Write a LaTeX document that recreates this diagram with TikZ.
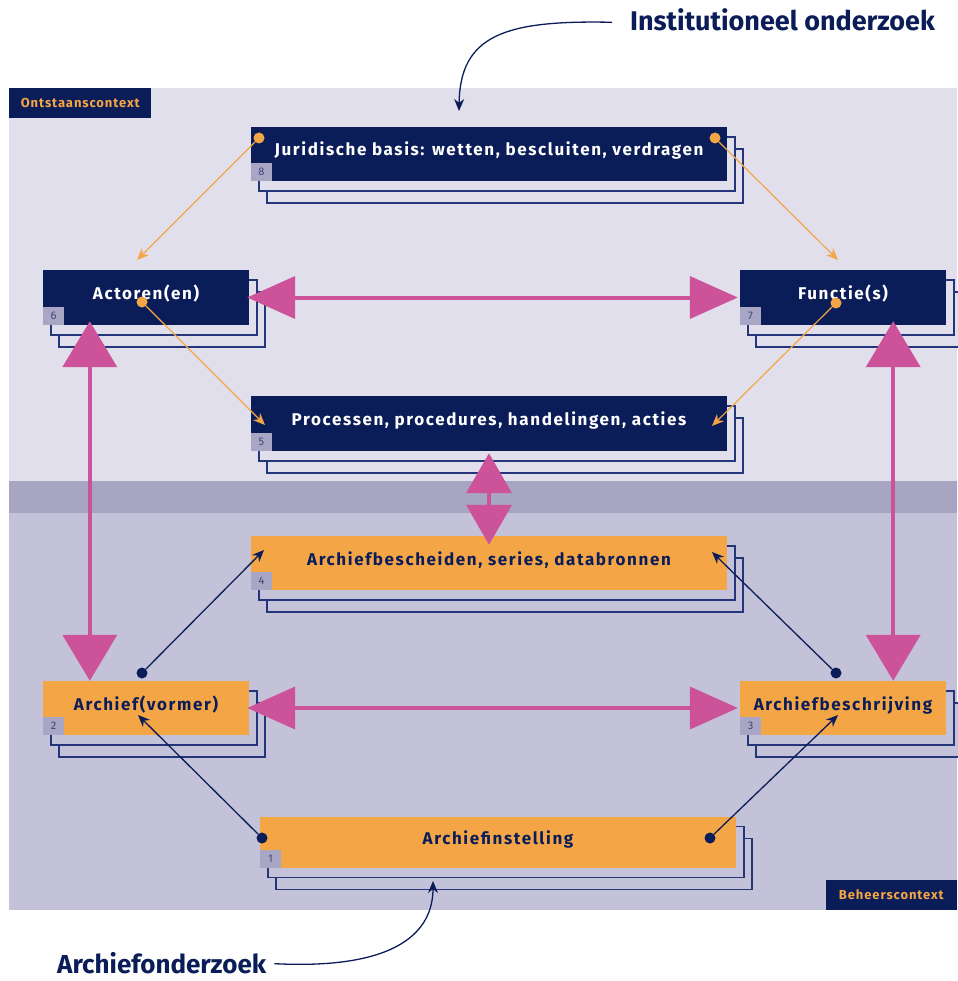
\documentclass[tikz,border=0pt]{standalone}
\usepackage{fontspec}
\setmainfont{Fira Sans}
\newfontfamily\spacedsans{Fira Sans}[LetterSpace=9.5]
\newfontfamily\tagsans{Fira Sans}[LetterSpace=7]
\usepackage{tikz}
\usetikzlibrary{arrows.meta, shadows, calc}

\definecolor{navy}{HTML}{0B1D58}
\definecolor{boxorange}{HTML}{F4A646}
\definecolor{rose}{HTML}{CC5399}
\definecolor{lavtop}{HTML}{E1DFEC}
\definecolor{lavband}{HTML}{A8A5C2}
\definecolor{lavbot}{HTML}{C4C2D8}
\definecolor{tagfill}{HTML}{A9A6C5}
\definecolor{tagtext}{HTML}{3B4679}
\definecolor{stackline}{HTML}{24357A}

\begin{document}
\begin{tikzpicture}[x=1pt, y=-1pt,
        boxtext/.style={font=\spacedsans\bfseries\fontsize{17}{20}\selectfont, text height=12pt, text depth=8pt, inner sep=0pt},
        stack/.style={general shadow={shadow xshift=16pt, shadow yshift=-22pt, fill=#1, draw=stackline, line width=1.4pt},
                      general shadow={shadow xshift=8pt, shadow yshift=-10pt, fill=#1, draw=stackline, line width=1.4pt}},
        bluebox/.style={boxtext, fill=navy, text=white, stack=lavtop},
        orangebox/.style={boxtext, fill=boxorange, text=navy, stack=lavbot},
        numtag/.style={fill=tagfill, text=tagtext, font=\fontsize{11}{13}\selectfont, minimum width=21pt, minimum height=18pt, inner sep=0pt, anchor=south west},
        ctxlabel/.style={fill=navy, text=boxorange, font=\tagsans\bfseries\fontsize{13}{15}\selectfont, inner sep=0pt},
        biglabel/.style={text=navy, font=\bfseries\fontsize{27}{30}\selectfont, inner sep=0pt},
        odot/.style={circle, fill=boxorange, inner sep=0pt, minimum size=11pt},
        ndot/.style={circle, fill=navy, inner sep=0pt, minimum size=11pt},
        oline/.style={draw=boxorange, line width=1.2pt, -{Stealth[length=12pt, width=10pt]}},
        nline/.style={draw=navy, line width=1.3pt, -{Stealth[length=12pt, width=10pt]}},
        hzarrow/.style={draw=rose, line width=4pt, {Triangle[length=48pt, width=42pt]}-{Triangle[length=48pt, width=42pt]}},
        vtarrow/.style={draw=rose, line width=4pt, {Triangle[length=46pt, width=54pt]}-{Triangle[length=46pt, width=54pt]}},
        midarrow/.style={draw=rose, line width=4pt, {Triangle[length=40pt, width=45pt]}-{Triangle[length=40pt, width=45pt]}}]
        \useasboundingbox (0,0) rectangle (957,981);

        % context areas
        \fill[lavtop] (9,88) rectangle (957,481);
        \fill[lavband] (9,481) rectangle (957,513);
        \fill[lavbot] (9,513) rectangle (957,910);
        \node[ctxlabel, anchor=north west, minimum width=142pt, minimum height=30pt] (ont) at (9,88) {Ontstaanscontext};
        \node[ctxlabel, anchor=south east, minimum width=131pt, minimum height=30pt] (beh) at (957,910) {Beheerscontext};

        % boxes
        \node[bluebox, minimum width=476pt, minimum height=54pt] (jur) at (489,154) {Juridische basis: wetten, bescluiten, verdragen};
        \node[bluebox, minimum width=206pt, minimum height=55pt] (act) at (146,297.5) {Actoren(en)};
        \node[bluebox, minimum width=206pt, minimum height=55pt] (fun) at (843,297.5) {Functie(s)};
        \node[bluebox, minimum width=476pt, minimum height=55pt] (proc) at (489,423.5) {Processen, procedures, handelingen, acties};
        \node[orangebox, minimum width=476pt, minimum height=54pt] (bron) at (489,563) {Archiefbescheiden, series, databronnen};
        \node[orangebox, minimum width=206pt, minimum height=54pt] (arv) at (146,708) {Archief(vormer)};
        \node[orangebox, minimum width=206pt, minimum height=54pt] (arb) at (843,708) {Archiefbeschrijving};
        \node[orangebox, minimum width=476pt, minimum height=51pt] (inst) at (498,842) {Archiefinstelling};

        \node[numtag] (n8) at (jur.south west) {8};
        \node[numtag] (n6) at (act.south west) {6};
        \node[numtag] (n7) at (fun.south west) {7};
        \node[numtag] (n5) at (proc.south west) {5};
        \node[numtag] (n4) at (bron.south west) {4};
        \node[numtag] (n2) at (arv.south west) {2};
        \node[numtag] (n3) at (arb.south west) {3};
        \node[numtag] (n1) at (inst.south west) {1};

        % pink relations
        \draw[hzarrow] ([xshift=-2pt]act.east) -- ([xshift=-2pt]fun.west);
        \draw[hzarrow] ([xshift=-2pt]arv.east) -- ([xshift=-2pt]arb.west);
        \draw[vtarrow] ([xshift=47pt, yshift=4pt]act.south west) -- ([xshift=47pt]arv.north west);
        \draw[vtarrow] ([xshift=-53pt, yshift=4pt]fun.south east) -- ([xshift=-53pt]arb.north east);
        \draw[midarrow] ([yshift=-2pt]proc.south) -- ([yshift=-9pt]bron.north);

        % orange links
        \node[odot] (jl) at (259,138) {};
        \node[odot] (jr) at (715,138) {};
        \node[odot] (ad) at (142,302) {};
        \node[odot] (fd) at (836,303) {};
        \coordinate (jlt) at (137,260);
        \coordinate (jrt) at (838,260);
        \coordinate (plt) at (265,425);
        \coordinate (prt) at (712,426);
        \draw[oline] (jl) -- (jlt);
        \draw[oline] (jr) -- (jrt);
        \draw[oline] (ad) -- (plt);
        \draw[oline] (fd) -- (prt);

        % navy links
        \node[ndot] (vd) at (142,673) {};
        \node[ndot] (bd) at (836,673) {};
        \node[ndot] (il) at (262,838) {};
        \node[ndot] (ir) at (710,838) {};
        \coordinate (blt) at (264,550);
        \coordinate (brt) at (712,552);
        \coordinate (vt) at (138,715);
        \coordinate (bt) at (838,715);
        \draw[nline] (vd) -- (blt);
        \draw[nline] (bd) -- (brt);
        \draw[nline] (il) -- (vt);
        \draw[nline] (ir) -- (bt);

        % research labels
        \node[biglabel, anchor=base west] (inl) at (630,31) {Institutioneel onderzoek};
        \node[biglabel, font=\bfseries\fontsize{26}{30}\selectfont, anchor=base west] (arl) at (57,973) {Archiefonderzoek};
        \draw[nline] ([xshift=-18pt, yshift=-2pt]inl.west) .. controls (505,20) and (460,35) .. (459,111);
        \draw[nline] ([xshift=8pt, yshift=-1pt]arl.east) .. controls (400,970) and (433,930) .. (433,881);
\end{tikzpicture}
\end{document}
